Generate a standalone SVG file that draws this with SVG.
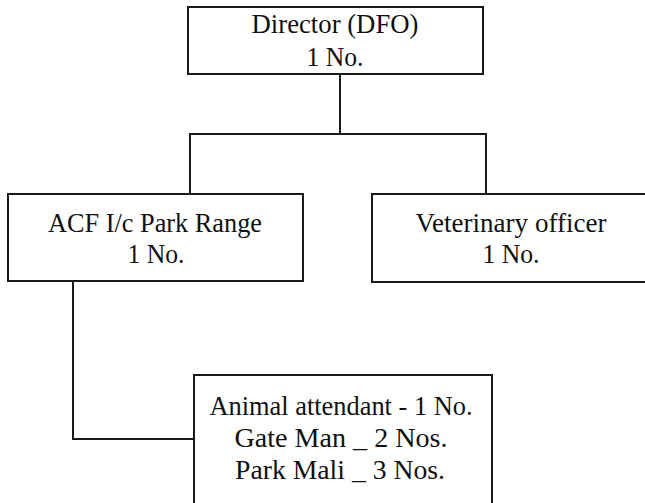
<svg xmlns="http://www.w3.org/2000/svg" width="645" height="503" viewBox="0 0 645 503">
<style>
.box{fill:none;stroke:#1a1a1a;stroke-width:2}
.ln{fill:none;stroke:#1a1a1a;stroke-width:2}
text{font-family:"Liberation Serif","Times New Roman",serif;font-size:28px;fill:#111;text-anchor:middle}
</style>
<rect width="645" height="503" fill="#ffffff"/>
<g id="connectors">
<polyline class="ln" points="340,74 340,134"/>
<polyline class="ln" points="190,194 190,134 486,134 486,194"/>
<polyline class="ln" points="73,281 73,439 194,439"/>
</g>
<g id="director">
<rect class="box" x="188" y="7" width="295" height="67"/>
<text x="335" y="33" textLength="167" lengthAdjust="spacingAndGlyphs">Director (DFO)</text>
<text x="335" y="66" textLength="57" lengthAdjust="spacingAndGlyphs">1 No.</text>
</g>
<g id="acf">
<rect class="box" x="8" y="194" width="295" height="87"/>
<text x="155" y="232" textLength="214" lengthAdjust="spacingAndGlyphs">ACF I/c Park Range</text>
<text x="156" y="263" textLength="57" lengthAdjust="spacingAndGlyphs">1 No.</text>
</g>
<g id="vet">
<rect class="box" x="372" y="194" width="290" height="88"/>
<text x="511" y="232" textLength="191" lengthAdjust="spacingAndGlyphs">Veterinary officer</text>
<text x="511" y="263" textLength="57" lengthAdjust="spacingAndGlyphs">1 No.</text>
</g>
<g id="staff">
<rect class="box" x="194" y="375" width="298" height="140"/>
<text x="341" y="415" textLength="263" lengthAdjust="spacingAndGlyphs">Animal attendant - 1 No.</text>
<text x="341" y="447" textLength="213" lengthAdjust="spacingAndGlyphs">Gate Man _ 2 Nos.</text>
<text x="340" y="479" textLength="210" lengthAdjust="spacingAndGlyphs">Park Mali _ 3 Nos.</text>
</g>
</svg>
